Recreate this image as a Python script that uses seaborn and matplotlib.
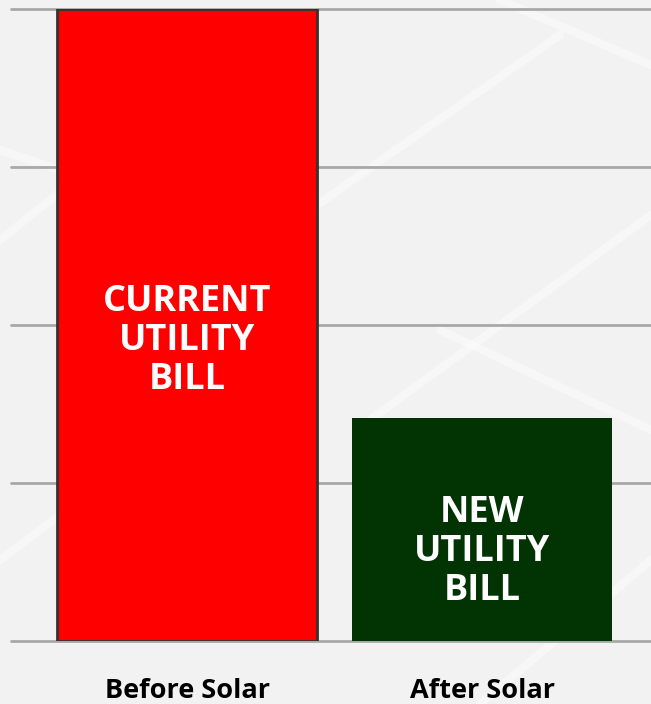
import matplotlib
matplotlib.use("Agg")
import matplotlib.pyplot as plt
import seaborn as sns
import pandas as pd
from matplotlib.lines import Line2D

categories = ["Before Solar", "After Solar"]
values = [4.0, 1.41]
bar_labels = ["CURRENT\nUTILITY\nBILL", "NEW\nUTILITY\nBILL"]
bar_colors = ["#ff0000", "#023302"]
yticks = [0, 1, 2, 3, 4]

sns.set_theme(style="white")
plt.rcParams['font.family'] = ['Open Sans', 'DejaVu Sans']

df = pd.DataFrame({"cat": categories, "val": values})

W, H = 651, 704
fig = plt.figure(figsize=(6.51, 7.04), dpi=100)
fig.patch.set_facecolor("#f2f2f2")

# faint background decoration (solar panel texture), in pixel coords
segs = [((310, 210), (560, 35)), ((500, 0), (651, 65)), ((370, 420), (651, 215)),
        ((0, 240), (150, 120)), ((0, 560), (120, 470)), ((440, 330), (651, 430)),
        ((480, 704), (651, 560)), ((0, 150), (60, 170))]
for (x0, y0), (x1, y1) in segs:
    fig.add_artist(Line2D([x0 / W, x1 / W], [1 - y0 / H, 1 - y1 / H], transform=fig.transFigure,
                          color="white", lw=6, alpha=0.4, zorder=0))

ax = fig.add_axes([11 / W, 63 / H, 1 - 11 / W, (641 - 9) / H])
ax.set_facecolor("none")
sns.barplot(data=df, x="cat", y="val", hue="cat", palette=bar_colors, legend=False,
            width=0.88, ax=ax, zorder=3, saturation=1)
for i, p in enumerate(ax.patches):
    if i == 0:
        p.set_edgecolor("#333333")
        p.set_linewidth(2)
    else:
        p.set_edgecolor(bar_colors[1])
        p.set_linewidth(0)

ax.set_xlim(-0.597, 1.573)
ax.set_ylim(0, 4)
ax.set_yticks(yticks)
ax.yaxis.grid(True, color="#a8a8a8", lw=2)
for gl in ax.get_ygridlines():
    gl.set_clip_on(False)
ax.set_axisbelow(True)
ax.tick_params(axis="y", left=False, labelleft=False)
ax.tick_params(axis="x", bottom=False, pad=21, labelsize=19.5)
for lab in ax.get_xticklabels():
    lab.set_fontweight("bold")
    lab.set_color("black")
ax.set_xlabel("")
ax.set_ylabel("")
for s in ax.spines.values():
    s.set_visible(False)

text_y = [341, 552]
for i, (lbl, ty) in enumerate(zip(bar_labels, text_y)):
    ax.text(i, (641 - ty) / 158.0, lbl, ha="center", va="center", color="white",
            fontsize=26, fontweight="bold", linespacing=1.12, zorder=5)

fig.savefig("out.png", dpi=100, facecolor=fig.get_facecolor())
